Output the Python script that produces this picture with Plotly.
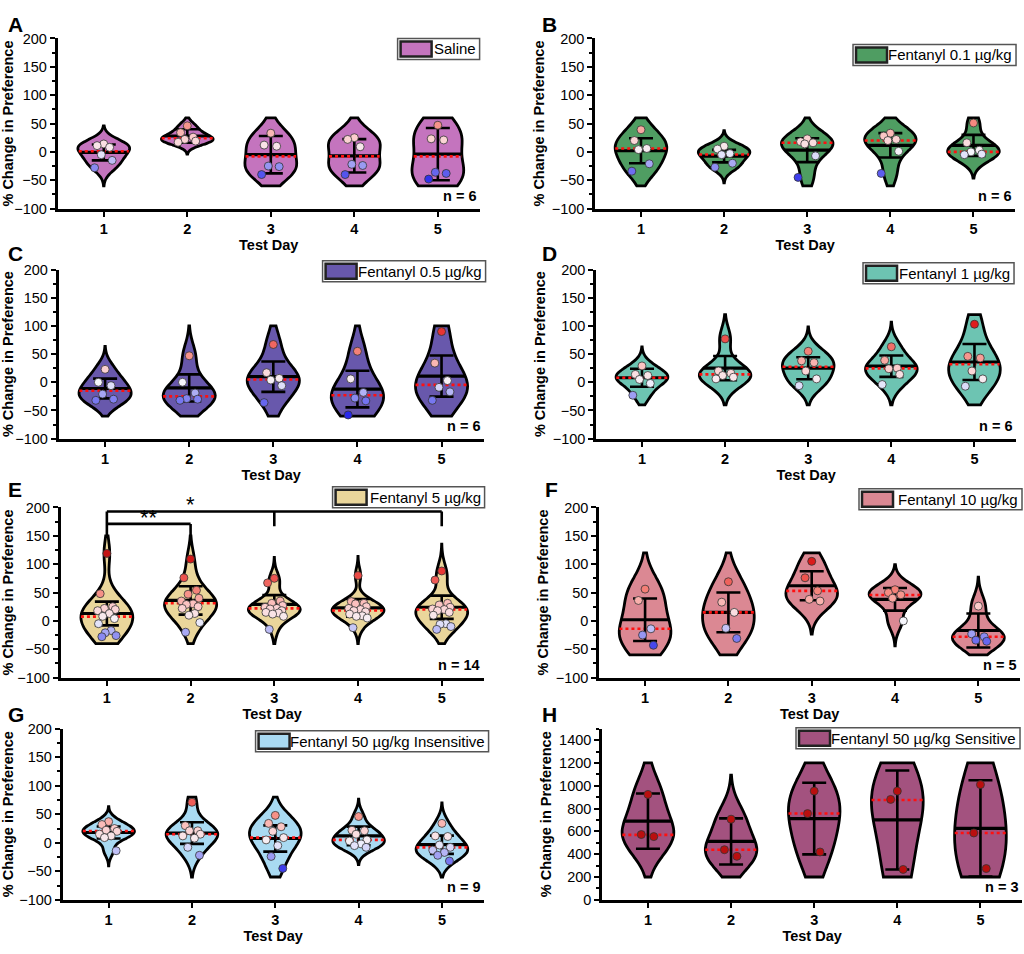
import numpy as np
import plotly.graph_objects as go

FONT = "Liberation Sans, Arial, sans-serif"
W, H = 1024, 954
DAYS = [1, 2, 3, 4, 5]

# A  Saline
SALINE_PTS = [
    [14, 11, 8, -5, -15, -28],
    [46, 34, 26, 22, 19, 17],
    [33, 12, 10, -25, -26, -40],
    [25, 22, 9, -22, -24, -40],
    [47, 23, 21, -36, -38, -48],
]
SALINE_MEAN = [-1, 28, -5, -7, -4]
SALINE_SD = [14, 12, 33, 29.5, 46]
SALINE_MED = [1, 24, -8, -8, -8]

# B  Fentanyl 0.1
F01_PTS = [
    [39, 20, 6, 4, -21, -34],
    [10, 5, -3, -5, -20, -27],
    [23, 18, 16, 14, -7, -45],
    [33, 28, 22, 20, 1, -38],
    [51, 16, 3, 0, -4, -5],
]
F01_MEAN = [2, -7.5, 3, 11.5, 11.5]
F01_SD = [22, 11, 21, 21.5, 18.5]
F01_MED = [6, -4.6, 16, 20, 0]

# C  Fentanyl 0.5
F05_PTS = [
    [23, 0, -6, -21, -30, -32],
    [47, 0, -19, -29, -30, -32],
    [67, 17, 7, 4, -6, -36],
    [55, 6, -18, -28, -33, -58],
    [90, 34, 3, -9, -17, -32],
]
F05_MEAN = [-11, -10, 10, -12, 11]
F05_SD = [17.5, 24, 27, 32.5, 36.5]
F05_MED = [-15, -25, 5, -23, -4.6]

# D  Fentanyl 1
F1_PTS = [
    [29, 14, 12, 5, -2, -23],
    [77, 20, 16, 12, 9, 6],
    [55, 38, 35, 20, 6, -6],
    [63, 39, 25, 24, 14, -4],
    [103, 46, 43, 20, 6, -7],
]
F1_MEAN = [8, 25, 25, 28.6, 36]
F1_SD = [16, 21.5, 19.5, 19, 32]
F1_MED = [8, 14, 27.5, 24.6, 32]

# E  Fentanyl 5
F5_PTS = [
    [119, 48, 25, 22, 20, 18, 13, 8, 4, -5, -17, -21, -26, -28],
    [109, 76, 54, 47, 40, 35, 30, 29, 25, 22, 13, 10, -3, -20],
    [75, 67, 35, 31, 27, 24, 22, 21, 18, 15, 14, 12, 8, -15],
    [80, 34, 31, 30, 25, 22, 20, 18, 16, 12, 9, 8, 5, -12],
    [88, 72, 31, 28, 24, 21, 20, 18, 15, 10, -5, -6, -10, -15],
]
F5_MEAN = [13, 36, 29, 23, 24]
F5_SD = [21, 25, 16.5, 15.5, 20.5]
F5_MED = [7.5, 31, 22, 18.4, 20]

# F  Fentanyl 10
F10_PTS = [
    [56, 36, -14, -25, -43],
    [69, 33, 15, -13, -31],
    [105, 76, 53, 38, 35],
    [55, 50, 46, 40, 0],
    [26, -23, -28, -34, -36],
]
F10_MEAN = [2, 15, 62, 38, -17]
F10_SD = [37.5, 35, 25.5, 20, 30]
F10_MED = [-14, 15, 53, 45.6, -28]

# G  Fentanyl 50 insensitive
F50I_PTS = [
    [37, 32, 25, 22, 20, 15, 12, 9, -14],
    [71, 30, 21, 21, 15, 12, 8, -8, -22],
    [48, 34, 28, 20, 9, 5, -5, -24, -45],
    [46, 22, 21, 15, 5, 3, -2, -5, -8],
    [34, 12, 11, -4, -8, -13, -17, -22, -32],
]
F50I_MEAN = [18, 17, 7.5, 12, -3.4]
F50I_SD = [10.5, 19, 23, 16.3, 16]
F50I_MED = [20.7, 15, 9, 5, -8]

# H  Fentanyl 50 sensitive
F50S_PTS = [
    [924, 572, 554],
    [707, 439, 381],
    [953, 756, 419],
    [953, 880, 266],
    [1010, 586, 274],
]
F50S_MEAN = [690, 512, 712, 700, 626]
F50S_SD = [242, 202, 314, 434, 422]
F50S_MED = [569, 439, 756, 875, 586]

PANELS = [
    dict(letter="A", label="Saline", color="#C474BE", pts=SALINE_PTS, mean=SALINE_MEAN,
         sd=SALINE_SD, med=SALINE_MED, n=6, box=(55, 478, 31, 204), leg=(478, 31, 82),
         clip=(-60, 60), let=(3, 3)),
    dict(letter="B", label="Fentanyl 0.1 µg/kg", color="#4F9D62", pts=F01_PTS, mean=F01_MEAN,
         sd=F01_SD, med=F01_MED, n=6, box=(594, 1015, 31, 204), leg=(1016, 37, 163),
         clip=(-60, 60), let=(539, 3)),
    dict(letter="C", label="Fentanyl 0.5 µg/kg", color="#6858AC", pts=F05_PTS, mean=F05_MEAN,
         sd=F05_SD, med=F05_MED, n=6, box=(56, 482, 266, 438), leg=(484, 257, 163),
         clip=(-60, 100), let=(3, 236)),
    dict(letter="D", label="Fentanyl 1 µg/kg", color="#6DC4B2", pts=F1_PTS, mean=F1_MEAN,
         sd=F1_SD, med=F1_MED, n=6, box=(595, 1016, 266, 438), leg=(1014, 259, 151),
         clip=(-40, 120), let=(539, 236)),
    dict(letter="E", label="Fentanyl 5 µg/kg", color="#EAD69B", pts=F5_PTS, mean=F5_MEAN,
         sd=F5_SD, med=F5_MED, n=14, box=(58, 482, 508, 681), leg=(483, 487, 152),
         clip=(-40, 150), let=(3, 476)),
    dict(letter="F", label="Fentanyl 10 µg/kg", color="#DB8893", pts=F10_PTS, mean=F10_MEAN,
         sd=F10_SD, med=F10_MED, n=5, box=(598, 1020, 508, 681), leg=(1022, 489, 163),
         clip=(-60, 120), let=(542, 476)),
    dict(letter="G", label="Fentanyl 50 µg/kg Insensitive", color="#A9DAF2", pts=F50I_PTS,
         mean=F50I_MEAN, sd=F50I_SD, med=F50I_MED, n=9, box=(60, 482, 733, 907),
         leg=(487, 735, 233), clip=(-60, 80), let=(3, 705)),
    dict(letter="H", label="Fentanyl 50 µg/kg Sensitive", color="#A3527F", pts=F50S_PTS,
         mean=F50S_MEAN, sd=F50S_SD, med=F50S_MED, n=3, box=(601, 1022, 733, 907),
         leg=(1020, 732, 224), clip=(200, 1200), let=(539, 705)),
]

# significance marks for panel E: (x from, x to, y, drops[(x, y bottom)])
SIG_BRACKETS = [
    (1, 5, 193, [(1, 146), (3, 167), (5, 167)]),
    (1, 2, 171, [(2, 146)]),
]
SIG_TEXT = [(1.5, 171, "**"), (2.0, 193, "*")]

VW = 0.62
JIT = [0.0, -0.08, 0.07, -0.03, 0.1, -0.11, 0.03, -0.05, 0.09, -0.1, 0.05, -0.02, 0.11, -0.06]
POINT_SCALE = [
    [0.0, "rgb(40,40,235)"], [0.143, "rgb(150,150,242)"], [0.286, "rgb(246,246,252)"],
    [0.43, "rgb(252,205,205)"], [0.57, "rgb(246,140,130)"], [0.857, "rgb(228,30,30)"],
    [1.0, "rgb(185,15,15)"],
]


def kde(vals, bw, y):
    y = np.atleast_1d(np.asarray(y, float))
    return np.exp(-0.5 * ((y[:, None] - vals[None, :]) / bw) ** 2).sum(axis=1)


fig = go.Figure()
layout = {}
shapes = []
annos = []

for i, p in enumerate(PANELS, 1):
    xn = "x" if i == 1 else f"x{i}"
    yn = "y" if i == 1 else f"y{i}"
    for k, day in enumerate(DAYS):
        vals = np.array(p["pts"][k], float)
        bw = 1.06 * vals.std(ddof=1) * len(vals) ** -0.2
        lo = max(p["clip"][0], vals.min() - 2.6 * bw)
        hi = min(p["clip"][1], vals.max() + 2.6 * bw)
        fig.add_trace(go.Violin(
            x=[day] * len(vals), y=vals, xaxis=xn, yaxis=yn,
            bandwidth=bw, spanmode="manual", span=[lo, hi], width=VW,
            scalemode="width", fillcolor=p["color"], opacity=1,
            line=dict(color="black", width=2.8), points=False,
            box_visible=False, meanline_visible=False, showlegend=False,
            hoverinfo="skip"))
        peak = kde(vals, bw, np.linspace(lo, hi, 600)).max()
        m, md = p["mean"][k], p["med"][k]
        hw_m = VW / 2 * kde(vals, bw, m)[0] / peak
        hw_d = VW / 2 * kde(vals, bw, md)[0] / peak
        fig.add_trace(go.Scatter(
            x=[day - hw_m, day + hw_m], y=[m, m], xaxis=xn, yaxis=yn,
            mode="lines", line=dict(color="black", width=3.2),
            showlegend=False, hoverinfo="skip"))
        fig.add_trace(go.Scatter(
            x=[day - hw_d, day + hw_d], y=[md, md], xaxis=xn, yaxis=yn,
            mode="lines", line=dict(color="#ff1010", width=2.6, dash="dot"),
            showlegend=False, hoverinfo="skip"))

    fig.add_trace(go.Scatter(
        x=DAYS, y=p["mean"], xaxis=xn, yaxis=yn, mode="markers",
        marker=dict(size=2, color="rgba(0,0,0,0)"),
        error_y=dict(type="data", array=p["sd"], visible=True, color="black",
                     thickness=2.6, width=12),
        showlegend=False, hoverinfo="skip"))

    px, py, pc = [], [], []
    for k, day in enumerate(DAYS):
        for j, v in enumerate(p["pts"][k]):
            px.append(day + JIT[j % len(JIT)])
            py.append(v)
            pc.append(v)
    fig.add_trace(go.Scatter(
        x=px, y=py, xaxis=xn, yaxis=yn, mode="markers",
        marker=dict(size=8, color=pc, colorscale=POINT_SCALE, cmin=-50, cmax=125,
                    line=dict(color="#333333", width=0.8)),
        showlegend=False, hoverinfo="skip"))

    x0, x1, y0, y1 = p["box"]
    big = p["letter"] == "H"
    layout["xaxis" if i == 1 else f"xaxis{i}"] = dict(
        domain=[x0 / W, x1 / W], anchor=yn, range=[0.45, 5.5], tickvals=DAYS,
        ticks="outside", ticklen=5, tickwidth=2, tickcolor="black",
        showline=True, linewidth=3, linecolor="black", showgrid=False, zeroline=False,
        tickfont=dict(family=FONT, size=14.5, color="black", weight="bold"),
        title=dict(text="Test Day", standoff=3,
                   font=dict(family=FONT, size=14.5, color="black", weight="bold")))
    layout["yaxis" if i == 1 else f"yaxis{i}"] = dict(
        domain=[1 - y1 / H, 1 - y0 / H], anchor=xn,
        range=[0, 1500] if big else [-100, 200],
        tick0=0, dtick=200 if big else 50,
        ticks="outside", ticklen=5, tickwidth=2, tickcolor="black",
        minor=dict(dtick=100 if big else 25, ticks="outside", ticklen=3,
                   tickwidth=1.5, tickcolor="black"),
        showline=True, linewidth=3, linecolor="black", showgrid=False, zeroline=False,
        tickfont=dict(family=FONT, size=14.5, color="black"),
        title=dict(text="% Change in Preference", standoff=4,
                   font=dict(family=FONT, size=14.5, color="black", weight="bold")))

    # legend box
    lr, lt, lw = p["leg"]
    shapes.append(dict(type="rect", xref="paper", yref="paper", xsizemode="pixel",
                       ysizemode="pixel", xanchor=lr / W, yanchor=1 - lt / H,
                       x0=-lw, x1=0, y0=-21, y1=0, fillcolor="white",
                       line=dict(color="#555555", width=1.5), layer="above"))
    shapes.append(dict(type="rect", xref="paper", yref="paper", xsizemode="pixel",
                       ysizemode="pixel", xanchor=lr / W, yanchor=1 - lt / H,
                       x0=-lw + 3, x1=-lw + 34, y0=-18, y1=-3, fillcolor=p["color"],
                       line=dict(color="#222222", width=2.5), layer="above"))
    annos.append(dict(text=p["label"], xref="paper", yref="paper", x=lr / W, y=1 - lt / H,
                      xanchor="right", yanchor="top", xshift=-2, yshift=0, showarrow=False,
                      font=dict(family=FONT, size=15, color="black")))
    annos.append(dict(text=f"n = {p['n']}", xref=f"{xn} domain", yref=f"{yn} domain",
                      x=1, y=0, xanchor="right", yanchor="bottom", xshift=-2, yshift=3,
                      showarrow=False,
                      font=dict(family=FONT, size=14.5, color="black", weight="bold")))
    lx, ly = p["let"]
    annos.append(dict(text=p["letter"], xref="paper", yref="paper", x=lx / W, y=1 - ly / H,
                      xanchor="left", yanchor="top", showarrow=False,
                      font=dict(family=FONT, size=21, color="black", weight="bold")))

    if p["letter"] == "E":
        for xa, xb, yt, drops in SIG_BRACKETS:
            shapes.append(dict(type="line", xref=xn, yref=yn, x0=xa, x1=xb, y0=yt, y1=yt,
                               line=dict(color="black", width=2.6)))
            for xd, yb in drops:
                shapes.append(dict(type="line", xref=xn, yref=yn, x0=xd, x1=xd, y0=yt,
                                   y1=yb, line=dict(color="black", width=2.6)))
        for xt, yt, t in SIG_TEXT:
            annos.append(dict(text=t, xref=xn, yref=yn, x=xt, y=yt, xanchor="center",
                              yanchor="bottom", yshift=-8, showarrow=False,
                              font=dict(family=FONT, size=22, color="black")))

fig.update_layout(
    width=W, height=H, margin=dict(l=0, r=0, t=0, b=0),
    paper_bgcolor="white", plot_bgcolor="white", showlegend=False,
    font=dict(family=FONT, color="black"),
    shapes=shapes, annotations=annos, **layout)

# page body has a default 8px margin; drop it so the figure fills the window
fig.write_html("out.html", config={"displayModeBar": False},
               post_script="document.body.style.margin='0';")
